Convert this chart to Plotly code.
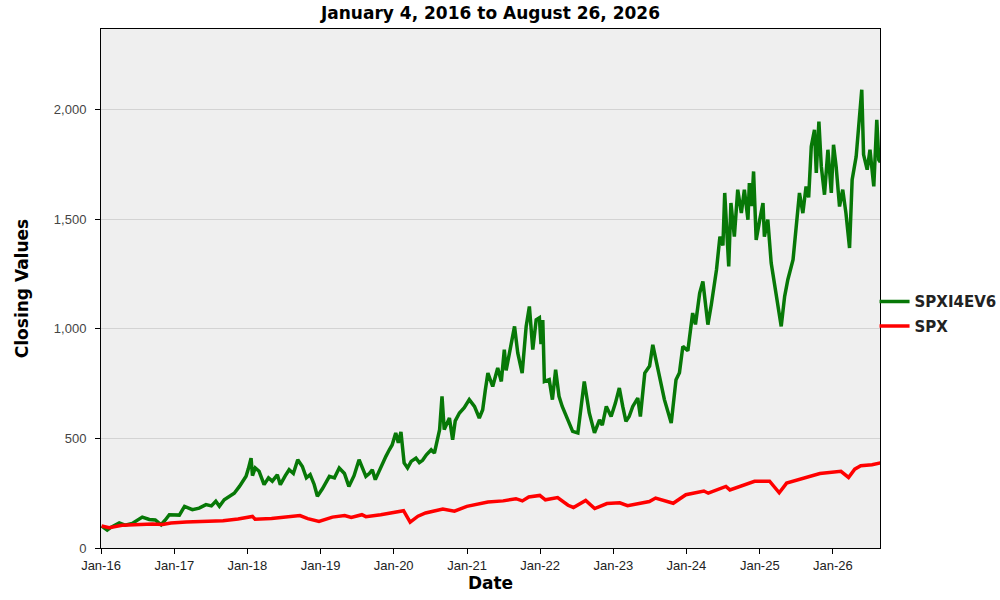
"""Closing values of SPXI4EV6 vs SPX, Jan 2016 - Aug 2026"""

import plotly.graph_objects as go

# SPXI4EV6 closing values
spxi_dates = [
    "2016-01-04", "2016-01-17", "2016-02-01", "2016-02-21", "2016-04-01", "2016-04-30",
    "2016-06-05", "2016-07-25", "2016-08-29", "2016-09-28", "2016-10-27", "2016-11-17",
    "2016-12-07", "2017-01-26", "2017-02-21", "2017-04-01", "2017-05-05", "2017-06-08",
    "2017-07-05", "2017-07-27", "2017-08-14", "2017-09-07", "2017-10-01", "2017-10-27",
    "2017-11-22", "2017-12-25", "2018-01-05", "2018-01-19", "2018-01-26", "2018-02-09",
    "2018-02-28", "2018-03-25", "2018-04-16", "2018-05-05", "2018-05-30", "2018-06-14",
    "2018-07-09", "2018-07-28", "2018-08-18", "2018-09-09", "2018-10-02", "2018-10-22",
    "2018-11-10", "2018-11-30", "2018-12-16", "2019-01-10", "2019-02-14", "2019-03-11",
    "2019-04-04", "2019-04-30", "2019-05-22", "2019-06-17", "2019-07-12", "2019-07-27",
    "2019-08-15", "2019-09-01", "2019-09-16", "2019-10-01", "2019-10-19", "2019-11-23",
    "2019-12-10", "2019-12-24", "2020-01-11", "2020-01-24", "2020-02-06", "2020-02-13",
    "2020-02-22", "2020-03-10", "2020-03-28", "2020-04-21", "2020-05-08", "2020-05-24",
    "2020-06-12", "2020-07-06", "2020-07-22", "2020-08-17", "2020-08-29", "2020-09-09",
    "2020-09-25", "2020-10-05", "2020-10-21", "2020-11-03", "2020-11-24", "2020-12-18",
    "2021-01-12", "2021-02-07", "2021-03-03", "2021-03-20", "2021-04-02", "2021-04-15",
    "2021-05-09", "2021-06-03", "2021-06-21", "2021-07-06", "2021-07-15", "2021-08-10",
    "2021-08-26", "2021-09-11", "2021-10-03", "2021-10-23", "2021-11-08", "2021-11-25",
    "2021-12-12", "2021-12-28", "2022-01-05", "2022-01-14", "2022-01-22", "2022-02-15",
    "2022-03-03", "2022-03-19", "2022-04-05", "2022-04-21", "2022-05-17", "2022-06-12",
    "2022-07-08", "2022-07-24", "2022-08-09", "2022-09-03", "2022-09-29", "2022-10-24",
    "2022-11-07", "2022-11-27", "2022-12-21", "2023-01-11", "2023-01-31", "2023-02-17",
    "2023-03-05", "2023-03-21", "2023-04-08", "2023-05-03", "2023-05-16", "2023-06-07",
    "2023-07-01", "2023-07-17", "2023-08-04", "2023-08-19", "2023-09-13", "2023-10-17",
    "2023-11-10", "2023-11-27", "2023-12-14", "2024-01-08", "2024-01-15", "2024-02-01",
    "2024-02-15", "2024-03-07", "2024-03-23", "2024-04-05", "2024-04-17", "2024-05-04",
    "2024-05-30", "2024-06-16", "2024-07-01", "2024-07-10", "2024-07-19", "2024-07-30",
    "2024-08-10", "2024-08-27", "2024-09-13", "2024-10-01", "2024-10-16", "2024-11-03",
    "2024-11-10", "2024-11-22", "2024-12-01", "2024-12-14", "2025-01-01", "2025-01-17",
    "2025-01-24", "2025-02-10", "2025-02-27", "2025-03-16", "2025-04-01", "2025-04-18",
    "2025-05-05", "2025-05-21", "2025-06-16", "2025-07-02", "2025-07-18", "2025-08-04",
    "2025-08-20", "2025-09-02", "2025-09-15", "2025-10-01", "2025-10-10", "2025-10-23",
    "2025-11-04", "2025-11-20", "2025-12-07", "2025-12-24", "2026-01-04", "2026-01-17",
    "2026-02-03", "2026-02-19", "2026-03-07", "2026-03-25", "2026-04-07", "2026-04-27",
    "2026-05-10", "2026-05-25", "2026-06-03", "2026-06-21", "2026-07-05", "2026-07-24",
    "2026-08-08", "2026-08-18", "2026-08-26",
]
spxi_values = [
    100, 90, 82, 95, 114, 104,
    112, 141, 130, 128, 106, 128,
    152, 150, 190, 175, 182, 198,
    192, 213, 190, 220, 236, 250,
    281, 327, 360, 410, 330, 365,
    350, 289, 320, 305, 334, 289,
    330, 357, 340, 403, 372, 320,
    335, 290, 236, 270, 327, 320,
    365, 340, 281, 330, 403, 370,
    327, 340, 357, 312, 350, 418,
    448, 470, 525, 480, 530, 470,
    388, 365, 395, 410, 390, 400,
    425, 448, 433, 540, 692, 540,
    570, 593, 494, 580, 616, 640,
    677, 646, 593, 631, 720, 798,
    737, 821, 760, 905, 810, 935,
    1011, 890, 798, 1011, 1102, 905,
    1041, 1050, 930, 1040, 760, 768,
    677, 813, 692, 646, 593, 532,
    525, 661, 760, 616, 525, 585,
    560, 646, 600, 660, 730, 646,
    578, 600, 646, 684, 600, 798,
    830, 927, 850, 798, 677, 570,
    768, 800, 920, 900, 950, 1072,
    1020, 1163, 1216, 1120, 1019, 1110,
    1270, 1421, 1380, 1620, 1450, 1285,
    1574, 1421, 1635, 1528, 1635, 1498,
    1665, 1560, 1718, 1406, 1498, 1574,
    1421, 1498, 1300, 1193, 1102, 1011,
    1148, 1224, 1315, 1483, 1620, 1528,
    1650, 1600, 1832, 1908, 1711, 1946,
    1741, 1612, 1817, 1620, 1840, 1741,
    1558, 1635, 1528, 1369, 1680, 1786,
    1939, 2091, 1795, 1726, 1817, 1650,
    1954, 1771, 1760,
]

# SPX closing values (rebased to 100)
spx_dates = [
    "2016-01-04", "2016-02-11", "2016-04-15", "2016-07-01", "2016-09-15", "2016-11-03",
    "2016-12-15", "2017-03-01", "2017-06-15", "2017-09-01", "2017-11-15", "2018-01-26",
    "2018-02-08", "2018-05-01", "2018-09-20", "2018-10-29", "2018-12-24", "2019-03-01",
    "2019-05-01", "2019-06-03", "2019-07-26", "2019-08-15", "2019-10-28", "2020-01-17",
    "2020-02-19", "2020-03-23", "2020-05-01", "2020-06-08", "2020-09-02", "2020-10-30",
    "2020-12-31", "2021-04-15", "2021-06-30", "2021-09-02", "2021-10-04", "2021-11-05",
    "2021-12-30", "2022-01-27", "2022-03-29", "2022-05-20", "2022-06-16", "2022-08-16",
    "2022-09-30", "2022-11-30", "2023-02-02", "2023-03-13", "2023-06-30", "2023-07-31",
    "2023-10-27", "2023-12-29", "2024-03-28", "2024-04-19", "2024-07-16", "2024-08-05",
    "2024-12-06", "2025-02-19", "2025-04-08", "2025-05-15", "2025-08-15", "2025-10-28",
    "2026-02-10", "2026-03-20", "2026-04-20", "2026-05-20", "2026-07-15", "2026-08-26",
]
spx_values = [
    100, 93, 104, 106, 110, 107,
    114, 119, 121, 124, 132, 144,
    131, 135, 148, 134, 121, 141,
    148, 139, 152, 143, 152, 167,
    170, 118, 145, 160, 178, 168,
    190, 210, 215, 225, 215, 233,
    240, 220, 230, 195, 185, 217,
    180, 203, 206, 193, 212, 228,
    204, 243, 260, 250, 281, 265,
    304, 305, 252, 296, 320, 340,
    350, 322, 360, 375, 380, 388,
]

BOLD = "DejaVu Sans, Verdana, sans-serif"

fig = go.Figure()
fig.add_trace(go.Scatter(x=spxi_dates, y=spxi_values, mode="lines", name="SPXI4EV6",
                         legendgroup="a", line=dict(color="#077807", width=3.5)))
fig.add_trace(go.Scatter(x=spx_dates, y=spx_values, mode="lines", name="SPX",
                         legendgroup="b", line=dict(color="#ff0000", width=3.5)))

fig.update_layout(
    width=1000, height=600,
    margin=dict(l=101, r=120, t=29, b=52, autoexpand=False),
    paper_bgcolor="white",
    plot_bgcolor="#efefef",
    font=dict(family="Liberation Sans, Arial, sans-serif", color="#222"),
    title=dict(text="January 4, 2016 to August 26, 2026", x=0.5, xref="paper",
               y=0.979, yref="container", yanchor="middle",
               font=dict(family=BOLD, size=17, color="black", weight="bold")),
    legend=dict(x=0.993, y=0.5065, xanchor="left", yanchor="top",
                font=dict(family=BOLD, size=15, color="#222", weight="bold"),
                bgcolor="rgba(0,0,0,0)", itemwidth=30, tracegroupgap=2),
    xaxis=dict(
        title=dict(text="Date", font=dict(family=BOLD, size=17, color="black", weight="bold"),
                   standoff=4),
        type="date", range=["2016-01-01", "2026-08-24"],
        tick0="2016-01-01", dtick="M12", tickformat="%b-%y",
        ticks="outside", ticklen=5, tickcolor="black",
        tickfont=dict(size=13, color="#222"),
        showgrid=False, showline=True, linecolor="black", linewidth=1, mirror=True,
        zeroline=False,
    ),
    yaxis=dict(
        title=dict(text="Closing Values",
                   font=dict(family=BOLD, size=17, color="black", weight="bold"), standoff=20),
        range=[0, 2368], dtick=500, tickformat=",",
        ticks="outside", ticklen=5, tickcolor="black", ticklabelstandoff=6,
        tickfont=dict(size=13, color="#444"),
        showgrid=True, gridcolor="#d3d3d3", gridwidth=1,
        showline=True, linecolor="black", linewidth=1, mirror=True,
        zeroline=False,
    ),
)

# drop the default 8px page margin so the figure sits at the window's corner
fig.write_html("out.html", config={"displayModeBar": False},
               post_script="document.body.style.margin='0px';")
